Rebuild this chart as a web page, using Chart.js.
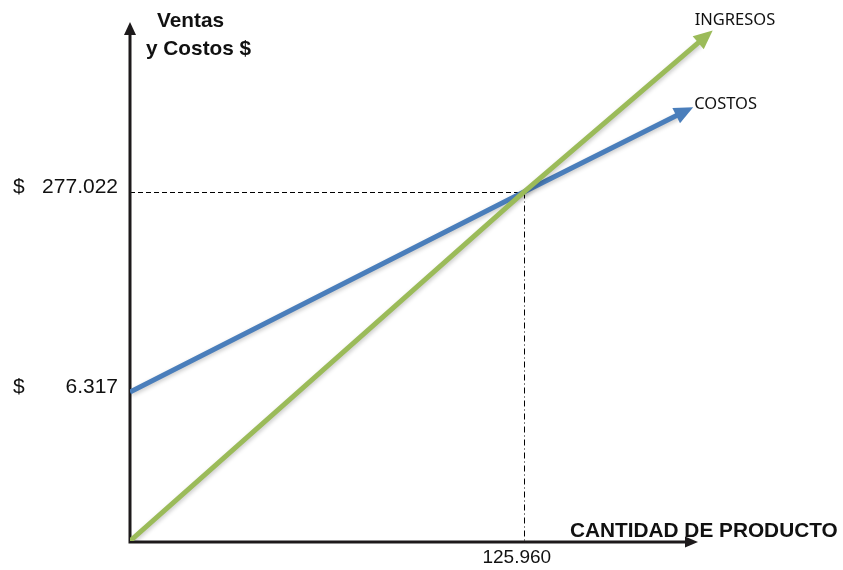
<!DOCTYPE html>
<html lang="es">
<head>
<meta charset="utf-8">
<title>Punto de equilibrio</title>
<script src="https://cdn.jsdelivr.net/npm/chart.js@4.4.0/dist/chart.umd.min.js"></script>
<style>
  html, body { margin: 0; padding: 0; background: #fff; }
  #wrap { width: 843px; height: 570px; }
</style>
</head>
<body>
<div id="wrap"><canvas id="equilibrio" width="843" height="570"></canvas></div>
<script>
// cantidades y pesos (277.022 = 277022)
const revenueQty = [0, 125960, 182000];
const revenueValues = [0, 277022, 480000];
const costQty = [0, 125960, 175000];
const costValues = [6317, 277022, 381000];
const yTicks = [6317, 277022];
const xTicks = [125960];
const seriesNames = ['INGRESOS', 'COSTOS'];
const yTitle = ['Ventas', 'y Costos $'];
const xTitle = 'CANTIDAD DE PRODUCTO';

const INK = '#1d1a1b';
const GREEN = '#9bbb59';
const BLUE = '#4a7ebb';
const fmt = n => String(n).replace(/\B(?=(\d{3})+(?!\d))/g, '.');
const toPoints = (xs, ys) => xs.map((x, i) => ({ x, y: ys[i] }));
const crisp = v => Math.round(v) + 0.5;

// linear scale whose lowest stretch (0 .. brk.value) is squeezed into brk.at of the axis
class BrokenScale extends Chart.LinearScale {
  _dec(v) {
    const b = this.options.brk;
    if (v <= b.value) return v / b.value * b.at;
    return b.at + (v - b.value) / (this.max - b.value) * (1 - b.at);
  }
  getPixelForValue(v) { return this.getPixelForDecimal(this._dec(v)); }
  getValueForPixel(px) {
    const b = this.options.brk;
    const d = this.getDecimalForPixel(px);
    if (d <= b.at) return d / b.at * b.value;
    return b.value + (d - b.at) / (1 - b.at) * (this.max - b.value);
  }
}
BrokenScale.id = 'broken';
BrokenScale.defaults = Chart.LinearScale.defaults;
Chart.register(BrokenScale);

function arrowHead(ctx, from, to, len, half, color) {
  const a = Math.atan2(to.y - from.y, to.x - from.x);
  ctx.save();
  ctx.translate(to.x, to.y);
  ctx.rotate(a);
  ctx.beginPath();
  ctx.moveTo(len, 0);
  ctx.lineTo(-1, -half);
  ctx.lineTo(-1, half);
  ctx.closePath();
  ctx.fillStyle = color;
  ctx.fill();
  ctx.restore();
}

// axes with arrows and the break-even guides, under the lines
const axesPlugin = {
  id: 'axes',
  beforeDatasetsDraw(chart) {
    const { ctx, chartArea, scales: { x, y } } = chart;
    const ox = x.getPixelForValue(0), oy = y.getPixelForValue(0);
    const bx = crisp(x.getPixelForValue(xTicks[0])), by = crisp(y.getPixelForValue(yTicks[1]));
    ctx.save();
    ctx.strokeStyle = '#000';
    ctx.lineWidth = 1;
    ctx.setLineDash([5, 3]);
    ctx.beginPath();
    ctx.moveTo(ox, by); ctx.lineTo(bx, by);
    ctx.stroke();
    ctx.setLineDash([6, 3, 1, 3]);
    ctx.beginPath();
    ctx.moveTo(bx, by); ctx.lineTo(bx, oy);
    ctx.stroke();
    ctx.setLineDash([]);

    ctx.strokeStyle = INK;
    ctx.lineWidth = 3;
    const yTip = { x: ox, y: chartArea.top + 2 };
    const xTip = { x: chartArea.right - 26, y: oy + 1 };
    ctx.beginPath();
    ctx.moveTo(ox, oy + 2); ctx.lineTo(ox, yTip.y + 12);
    ctx.moveTo(ox - 1.5, xTip.y); ctx.lineTo(xTip.x - 12, xTip.y);
    ctx.stroke();
    arrowHead(ctx, { x: ox, y: oy }, { x: ox, y: yTip.y + 12 }, 12, 6, INK);
    arrowHead(ctx, { x: ox, y: xTip.y }, { x: xTip.x - 12, y: xTip.y }, 12, 5.5, INK);
    ctx.restore();
  },
  beforeDatasetDraw(chart) {
    const ctx = chart.ctx;
    ctx.save();
    ctx.shadowColor = 'rgba(0,0,0,0.22)';
    ctx.shadowBlur = 4;
    ctx.shadowOffsetX = 1.5;
    ctx.shadowOffsetY = 1.5;
  },
  afterDatasetDraw(chart) {
    chart.ctx.restore();
  },
  afterDatasetsDraw(chart) {
    const { ctx, scales: { x, y } } = chart;
    const tips = [];
    chart.data.datasets.forEach((ds, i) => {
      const pts = chart.getDatasetMeta(i).data;
      const a = pts[pts.length - 2], b = pts[pts.length - 1];
      arrowHead(ctx, a, b, 18, 8.5, ds.borderColor);
      const ang = Math.atan2(b.y - a.y, b.x - a.x);
      tips.push({ x: b.x + 18 * Math.cos(ang), y: b.y + 18 * Math.sin(ang) });
    });

    ctx.save();
    ctx.fillStyle = '#111';
    ctx.textBaseline = 'alphabetic';

    ctx.font = '16.5px "Noto Sans", sans-serif';
    ctx.textAlign = 'left';
    ctx.fillText(seriesNames[0], tips[0].x - 18, tips[0].y - 5);
    ctx.fillText(seriesNames[1], tips[1].x + 1, tips[1].y + 2);

    ctx.font = 'bold 20.8px "Liberation Sans", Arial, sans-serif';
    ctx.fillText(yTitle[0], 157, 27);
    ctx.fillText(yTitle[1], 146, 55);
    ctx.fillText(xTitle, 570, 537);

    ctx.font = '21px "Liberation Sans", Arial, sans-serif';
    yTicks.forEach(v => {
      const py = y.getPixelForValue(v) + 1;
      ctx.textAlign = 'left';
      ctx.fillText('$', 13, py);
      ctx.textAlign = 'right';
      ctx.fillText(fmt(v), 118, py);
    });
    ctx.font = '19px "Liberation Sans", Arial, sans-serif';
    ctx.textAlign = 'center';
    xTicks.forEach(v => ctx.fillText(fmt(v), x.getPixelForValue(v) - 7, 563));
    ctx.restore();
  }
};

new Chart(document.getElementById('equilibrio'), {
  type: 'line',
  data: {
    datasets: [
      { label: seriesNames[0], data: toPoints(revenueQty, revenueValues), borderColor: GREEN },
      { label: seriesNames[1], data: toPoints(costQty, costValues), borderColor: BLUE }
    ]
  },
  options: {
    responsive: false,
    animation: false,
    layout: { padding: { left: 130, right: 119, top: 20, bottom: 29 } },
    elements: {
      line: { borderWidth: 5, tension: 0, borderCapStyle: 'butt', borderJoinStyle: 'round', fill: false },
      point: { radius: 0, hoverRadius: 0 }
    },
    plugins: { legend: { display: false }, tooltip: { enabled: false } },
    scales: {
      x: { type: 'linear', min: 0, max: 190000, display: false },
      y: { type: 'broken', min: 0, max: 510000, brk: { value: yTicks[0], at: 0.286 }, display: false }
    }
  },
  plugins: [axesPlugin]
});
</script>
</body>
</html>
